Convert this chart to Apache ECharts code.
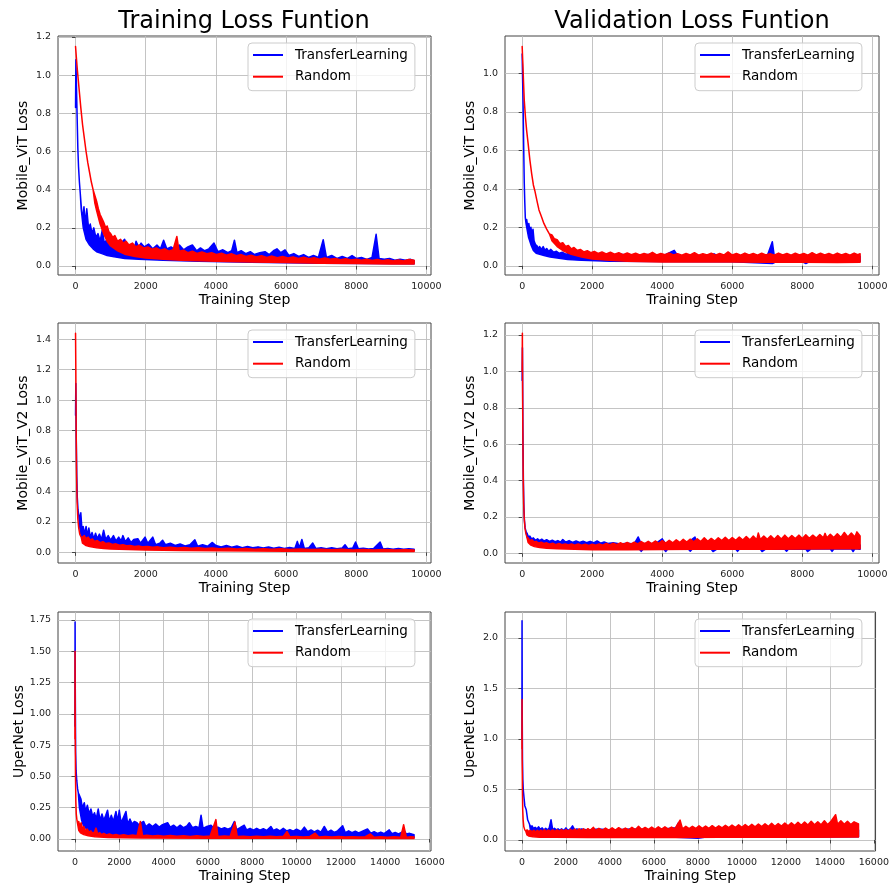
<!DOCTYPE html>
<html>
<head>
<meta charset="utf-8">
<script src="https://cdn.jsdelivr.net/npm/echarts@6/dist/echarts.min.js"></script>
<style>
html, body { margin: 0; padding: 0; background: #fff; }
#chart { width: 892px; height: 888px; }
</style>
</head>
<body>
<div id="chart"></div>
<script>

// ---- tick labels ----
var stepTicks10k = [0, 2000, 4000, 6000, 8000, 10000];
var stepTicks16k = [0, 2000, 4000, 6000, 8000, 10000, 12000, 14000, 16000];
var lossTicks12 = [0, 0.2, 0.4, 0.6, 0.8, 1.0, 1.2];
var lossTicks10 = [0, 0.2, 0.4, 0.6, 0.8, 1.0];
var lossTicks14 = [0, 0.2, 0.4, 0.6, 0.8, 1.0, 1.2, 1.4];
var lossTicks175 = [0, 0.25, 0.5, 0.75, 1.0, 1.25, 1.5, 1.75];
var lossTicks20 = [0, 0.5, 1.0, 1.5, 2.0];

var seriesNames = ['TransferLearning', 'Random'];

// ---- Mobile_ViT, training ([step, loss]; decay = single line, high/low = noise band) ----
var vitTrainTlDecay = [[0,0.83],[10,1.08],[25,0.95],[45,0.78],[65,0.62],[85,0.52],[110,0.44],[135,0.38]];
var vitTrainTlHigh = [[160,0.32],[200,0.24],[240,0.31],[280,0.22],[320,0.3],[370,0.2],[420,0.22],[470,0.17],[520,0.2],[580,0.15],[640,0.17],[700,0.13],[764,0.19],[820,0.12],[900,0.14],[1000,0.11],[1100,0.13],[1200,0.1],[1300,0.12],[1398,0.14],[1480,0.1],[1560,0.11],[1680,0.095],[1725,0.13],[1800,0.1],[1868,0.12],[1960,0.1],[2080,0.115],[2200,0.09],[2320,0.11],[2420,0.09],[2510,0.135],[2600,0.09],[2720,0.1],[2840,0.085],[2960,0.11],[3080,0.085],[3200,0.1],[3330,0.11],[3450,0.08],[3560,0.095],[3680,0.08],[3800,0.09],[3945,0.12],[4060,0.075],[4200,0.085],[4340,0.07],[4450,0.08],[4528,0.135],[4600,0.07],[4720,0.08],[4850,0.065],[4980,0.075],[5100,0.06],[5250,0.07],[5400,0.075],[5520,0.06],[5640,0.08],[5740,0.09],[5850,0.07],[5970,0.085],[6080,0.055],[6220,0.065],[6360,0.05],[6500,0.06],[6640,0.045],[6780,0.055],[6920,0.045],[7058,0.138],[7150,0.045],[7300,0.055],[7450,0.04],[7600,0.05],[7750,0.04],[7880,0.055],[8000,0.04],[8150,0.045],[8300,0.035],[8450,0.045],[8566,0.166],[8650,0.04],[8800,0.035],[8950,0.04],[9100,0.03],[9250,0.035],[9400,0.03],[9550,0.035],[9650,0.028]];
var vitTrainTlLow = [[160,0.3],[220,0.2],[300,0.14],[400,0.11],[500,0.09],[600,0.075],[750,0.065],[900,0.055],[1100,0.048],[1400,0.04],[1800,0.035],[2500,0.03],[3500,0.025],[5000,0.02],[7000,0.015],[9650,0.012]];
var vitTrainRdDecay = [[0,1.15],[20,1.1],[50,1.03],[100,0.93],[150,0.83],[200,0.74],[250,0.67],[300,0.6],[350,0.54],[400,0.49],[450,0.44],[500,0.4]];
var vitTrainRdHigh = [[550,0.37],[600,0.34],[650,0.3],[700,0.27],[750,0.25],[800,0.23],[860,0.2],[900,0.21],[950,0.18],[1000,0.17],[1060,0.15],[1120,0.16],[1200,0.13],[1280,0.14],[1360,0.12],[1440,0.13],[1520,0.11],[1620,0.12],[1720,0.1],[1820,0.11],[1940,0.095],[2060,0.1],[2180,0.088],[2300,0.095],[2420,0.083],[2540,0.09],[2660,0.078],[2780,0.086],[2887,0.155],[2950,0.078],[3080,0.083],[3200,0.07],[3330,0.078],[3460,0.066],[3600,0.074],[3740,0.064],[3880,0.07],[4020,0.06],[4160,0.067],[4300,0.057],[4440,0.064],[4580,0.054],[4720,0.06],[4860,0.05],[5000,0.057],[5150,0.048],[5300,0.054],[5450,0.045],[5600,0.052],[5750,0.043],[5900,0.05],[6050,0.042],[6200,0.048],[6350,0.04],[6500,0.046],[6650,0.038],[6800,0.044],[6950,0.036],[7100,0.042],[7250,0.035],[7400,0.04],[7550,0.033],[7700,0.038],[7850,0.032],[8000,0.036],[8150,0.03],[8300,0.035],[8450,0.029],[8600,0.034],[8750,0.028],[8900,0.033],[9050,0.027],[9200,0.032],[9350,0.026],[9500,0.034],[9650,0.03]];
var vitTrainRdLow = [[550,0.33],[600,0.29],[700,0.22],[800,0.17],[900,0.13],[1000,0.105],[1200,0.08],[1400,0.062],[1700,0.05],[2000,0.042],[2500,0.035],[3000,0.03],[4000,0.025],[5000,0.021],[6000,0.018],[7000,0.015],[8000,0.013],[9000,0.011],[9650,0.01]];

// ---- Mobile_ViT, validation ----
var vitValTlDecay = [[0,1.1],[15,0.95],[30,0.8],[45,0.6],[60,0.43],[75,0.33],[90,0.25],[110,0.22]];
var vitValTlHigh = [[130,0.24],[160,0.2],[190,0.22],[220,0.18],[250,0.2],[280,0.16],[310,0.19],[340,0.13],[380,0.11],[420,0.105],[460,0.09],[500,0.1],[550,0.085],[600,0.1],[650,0.08],[700,0.09],[760,0.075],[820,0.085],[900,0.07],[980,0.075],[1060,0.065],[1150,0.07],[1250,0.06],[1350,0.065],[1500,0.058],[1700,0.062],[1900,0.055],[2100,0.06],[2400,0.055],[2800,0.06],[3200,0.052],[3600,0.058],[4000,0.05],[4343,0.08],[4450,0.05],[4900,0.055],[5300,0.05],[5480,0.062],[5600,0.05],[6000,0.055],[6500,0.05],[7000,0.052],[7143,0.125],[7200,0.05],[7700,0.052],[8200,0.048],[8700,0.052],[9200,0.048],[9650,0.05]];
var vitValTlLow = [[130,0.2],[180,0.15],[250,0.11],[320,0.08],[400,0.065],[500,0.06],[600,0.055],[800,0.045],[1000,0.04],[1300,0.033],[1700,0.028],[2500,0.024],[4000,0.022],[6000,0.021],[7143,0.012],[7250,0.021],[8000,0.02],[8100,0.012],[8200,0.02],[9000,0.021],[9650,0.022]];
var vitValRdDecay = [[0,1.14],[20,1.05],[40,0.95],[60,0.86],[95,0.77],[130,0.7],[170,0.636],[220,0.55],[270,0.48],[320,0.42],[362,0.39],[420,0.34],[480,0.29],[552,0.255],[620,0.22],[700,0.19],[780,0.165]];
var vitValRdHigh = [[850,0.16],[920,0.14],[1000,0.135],[1080,0.115],[1160,0.12],[1240,0.1],[1320,0.105],[1400,0.088],[1480,0.095],[1570,0.08],[1660,0.085],[1760,0.072],[1860,0.078],[1960,0.068],[2060,0.075],[2170,0.064],[2280,0.072],[2400,0.062],[2520,0.07],[2640,0.06],[2760,0.068],[2880,0.058],[3000,0.066],[3120,0.058],[3240,0.065],[3360,0.056],[3480,0.064],[3600,0.058],[3720,0.07],[3840,0.056],[3960,0.064],[4080,0.057],[4200,0.066],[4320,0.056],[4440,0.063],[4560,0.055],[4680,0.064],[4800,0.056],[4920,0.068],[5040,0.055],[5160,0.063],[5280,0.056],[5400,0.065],[5520,0.055],[5640,0.064],[5760,0.056],[5880,0.072],[6000,0.056],[6120,0.064],[6240,0.055],[6360,0.066],[6480,0.056],[6600,0.064],[6720,0.055],[6840,0.065],[6960,0.056],[7080,0.063],[7200,0.055],[7320,0.066],[7440,0.056],[7560,0.064],[7680,0.055],[7800,0.065],[7920,0.056],[8040,0.064],[8160,0.055],[8280,0.068],[8400,0.056],[8520,0.065],[8640,0.056],[8760,0.064],[8880,0.055],[9000,0.066],[9120,0.056],[9240,0.064],[9360,0.055],[9480,0.066],[9580,0.058],[9650,0.062]];
var vitValRdLow = [[850,0.13],[1000,0.1],[1200,0.075],[1400,0.06],[1700,0.045],[2000,0.035],[2500,0.028],[3000,0.024],[4000,0.02],[5000,0.02],[6000,0.019],[7000,0.018],[8000,0.018],[9000,0.017],[9650,0.018]];

// ---- Mobile_ViT_V2, training ----
var v2TrainTlDecay = [[0,0.9],[8,1.11],[20,0.75],[35,0.5],[50,0.36],[70,0.28],[90,0.25]];
var v2TrainTlHigh = [[110,0.21],[150,0.26],[180,0.16],[217,0.17],[260,0.12],[300,0.17],[340,0.11],[380,0.16],[420,0.1],[470,0.13],[520,0.09],[570,0.125],[620,0.09],[680,0.12],[740,0.085],[800,0.145],[860,0.085],[930,0.11],[1000,0.08],[1080,0.11],[1150,0.075],[1230,0.1],[1300,0.075],[1350,0.11],[1420,0.07],[1500,0.095],[1580,0.065],[1660,0.085],[1775,0.09],[1850,0.06],[1980,0.1],[2060,0.06],[2200,0.1],[2280,0.05],[2400,0.06],[2480,0.08],[2560,0.05],[2700,0.06],[2840,0.045],[2980,0.055],[3120,0.042],[3260,0.05],[3400,0.083],[3480,0.04],[3620,0.05],[3760,0.04],[3900,0.065],[4000,0.045],[4150,0.035],[4300,0.045],[4450,0.033],[4600,0.042],[4750,0.03],[4900,0.038],[5050,0.03],[5200,0.036],[5350,0.028],[5500,0.035],[5650,0.027],[5800,0.033],[5950,0.026],[6100,0.032],[6250,0.026],[6320,0.072],[6380,0.03],[6450,0.085],[6520,0.026],[6650,0.03],[6760,0.061],[6850,0.025],[7000,0.03],[7150,0.024],[7300,0.03],[7450,0.023],[7600,0.028],[7680,0.05],[7760,0.024],[7900,0.028],[7980,0.068],[8060,0.023],[8200,0.027],[8350,0.022],[8500,0.026],[8680,0.068],[8760,0.022],[8900,0.026],[9050,0.021],[9200,0.025],[9350,0.02],[9500,0.024],[9650,0.02]];
var v2TrainTlLow = [[110,0.18],[150,0.12],[200,0.09],[300,0.07],[400,0.06],[600,0.05],[800,0.045],[1000,0.04],[1500,0.035],[2000,0.03],[3000,0.025],[4000,0.02],[6000,0.016],[8000,0.013],[9650,0.012]];
var v2TrainRdDecay = [[0,1.44],[8,1.2],[18,0.8],[30,0.5],[45,0.33],[65,0.22],[90,0.16],[120,0.12],[160,0.1]];
var v2TrainRdHigh = [[200,0.1],[250,0.11],[300,0.09],[360,0.1],[420,0.08],[480,0.088],[540,0.072],[620,0.078],[700,0.064],[780,0.07],[860,0.058],[950,0.062],[1050,0.052],[1150,0.056],[1250,0.047],[1350,0.05],[1450,0.043],[1560,0.045],[1680,0.039],[1800,0.042],[1920,0.036],[2050,0.039],[2200,0.033],[2350,0.036],[2500,0.031],[2700,0.034],[2900,0.029],[3100,0.032],[3300,0.027],[3500,0.03],[3700,0.025],[3900,0.028],[4100,0.023],[4350,0.027],[4600,0.022],[4850,0.026],[5100,0.021],[5350,0.024],[5600,0.02],[5850,0.023],[6100,0.019],[6400,0.022],[6700,0.018],[7000,0.021],[7300,0.017],[7600,0.02],[7900,0.016],[8200,0.019],[8500,0.015],[8800,0.018],[9100,0.015],[9400,0.017],[9650,0.016]];
var v2TrainRdLow = [[200,0.06],[300,0.045],[400,0.038],[600,0.03],[800,0.025],[1000,0.022],[1500,0.018],[2000,0.015],[3000,0.012],[4000,0.01],[6000,0.008],[8000,0.006],[9650,0.005]];

// ---- Mobile_ViT_V2, validation ----
var v2ValTlDecay = [[0,0.95],[8,1.13],[20,0.7],[35,0.4],[50,0.25],[65,0.18],[85,0.14],[110,0.12]];
var v2ValTlHigh = [[140,0.11],[180,0.09],[220,0.095],[270,0.08],[320,0.085],[380,0.072],[440,0.08],[500,0.07],[560,0.078],[630,0.068],[700,0.075],[780,0.066],[860,0.072],[940,0.064],[1020,0.07],[1100,0.062],[1160,0.076],[1240,0.062],[1340,0.07],[1440,0.06],[1540,0.068],[1640,0.06],[1740,0.067],[1840,0.058],[1940,0.066],[2040,0.058],[2140,0.068],[2240,0.056],[2340,0.062],[2450,0.054],[2600,0.058],[2800,0.052],[3000,0.056],[3200,0.052],[3314,0.09],[3400,0.052],[3600,0.056],[3800,0.052],[4000,0.08],[4100,0.052],[4300,0.056],[4500,0.05],[4700,0.055],[4934,0.09],[5000,0.05],[5500,0.05],[6000,0.048],[6500,0.05],[7000,0.046],[7500,0.048],[8000,0.046],[8500,0.048],[9000,0.045],[9650,0.046]];
var v2ValTlLow = [[140,0.09],[200,0.065],[300,0.05],[400,0.045],[600,0.04],[800,0.038],[1000,0.036],[1500,0.034],[2000,0.032],[2500,0.028],[3000,0.023],[3350,0.022],[3400,0.011],[3450,0.022],[4050,0.022],[4100,0.01],[4150,0.022],[4750,0.022],[4800,0.012],[4850,0.022],[5400,0.022],[5450,0.01],[5550,0.022],[6100,0.022],[6150,0.011],[6200,0.023],[6800,0.023],[6850,0.01],[6950,0.023],[7500,0.023],[7550,0.012],[7600,0.023],[8100,0.024],[8150,0.01],[8250,0.024],[8800,0.024],[8850,0.011],[8900,0.024],[9400,0.025],[9450,0.01],[9500,0.025],[9650,0.022]];
var v2ValRdDecay = [[0,1.0],[6,1.21],[15,0.8],[28,0.45],[42,0.28],[60,0.19],[80,0.14],[105,0.11],[135,0.09]];
var v2ValRdHigh = [[170,0.085],[220,0.07],[280,0.075],[340,0.062],[400,0.066],[470,0.056],[540,0.062],[620,0.054],[700,0.058],[780,0.05],[870,0.056],[960,0.048],[1050,0.054],[1140,0.047],[1230,0.052],[1320,0.046],[1410,0.052],[1500,0.045],[1600,0.051],[1700,0.045],[1800,0.05],[1900,0.044],[2000,0.05],[2100,0.045],[2200,0.052],[2300,0.045],[2400,0.055],[2500,0.047],[2600,0.056],[2700,0.048],[2800,0.058],[2900,0.05],[3000,0.06],[3100,0.05],[3200,0.062],[3300,0.052],[3400,0.065],[3500,0.053],[3600,0.066],[3700,0.054],[3800,0.068],[3900,0.055],[4000,0.07],[4100,0.056],[4200,0.072],[4300,0.058],[4400,0.074],[4500,0.06],[4600,0.077],[4700,0.062],[4800,0.078],[4900,0.063],[5000,0.08],[5100,0.065],[5200,0.085],[5300,0.066],[5400,0.082],[5500,0.068],[5600,0.086],[5700,0.07],[5800,0.088],[5900,0.07],[6000,0.087],[6100,0.072],[6200,0.09],[6300,0.073],[6400,0.092],[6500,0.074],[6600,0.095],[6700,0.075],[6743,0.112],[6800,0.076],[6900,0.095],[7000,0.077],[7100,0.097],[7200,0.078],[7300,0.098],[7400,0.079],[7500,0.1],[7600,0.08],[7700,0.098],[7800,0.081],[7900,0.1],[8000,0.082],[8100,0.102],[8200,0.083],[8300,0.1],[8400,0.084],[8500,0.104],[8600,0.085],[8650,0.11],[8700,0.086],[8800,0.105],[8900,0.087],[9000,0.108],[9100,0.088],[9200,0.115],[9300,0.09],[9400,0.112],[9500,0.09],[9560,0.118],[9650,0.095]];
var v2ValRdLow = [[170,0.06],[250,0.045],[350,0.037],[500,0.032],[700,0.028],[1000,0.025],[1500,0.022],[2000,0.02],[3000,0.02],[4000,0.021],[5000,0.022],[6000,0.022],[7000,0.023],[8000,0.024],[9000,0.025],[9650,0.026]];

// ---- UperNet, training ----
var uperTrainTlDecay = [[0,0.9],[5,1.735],[15,1.2],[30,0.7],[50,0.55],[80,0.47],[120,0.4],[150,0.37]];
var uperTrainTlHigh = [[200,0.35],[270,0.32],[330,0.25],[421,0.29],[480,0.22],[560,0.27],[640,0.2],[720,0.24],[800,0.18],[880,0.21],[960,0.16],[1050,0.24],[1130,0.15],[1220,0.2],[1300,0.15],[1390,0.19],[1470,0.23],[1550,0.14],[1640,0.19],[1730,0.14],[1850,0.22],[1930,0.14],[2000,0.23],[2080,0.13],[2180,0.17],[2300,0.22],[2380,0.12],[2480,0.16],[2580,0.12],[2680,0.14],[2800,0.13],[2900,0.11],[3000,0.13],[3100,0.14],[3200,0.1],[3350,0.12],[3500,0.1],[3650,0.12],[3800,0.095],[3950,0.115],[4180,0.13],[4300,0.095],[4450,0.11],[4600,0.09],[4750,0.11],[4900,0.09],[5050,0.105],[5160,0.13],[5300,0.09],[5450,0.1],[5600,0.09],[5690,0.19],[5780,0.085],[5950,0.1],[6140,0.11],[6300,0.08],[6450,0.095],[6600,0.08],[6750,0.09],[6900,0.078],[7050,0.09],[7190,0.14],[7300,0.075],[7450,0.09],[7640,0.11],[7750,0.072],[7900,0.085],[8050,0.07],[8200,0.085],[8350,0.07],[8500,0.082],[8650,0.068],[8840,0.1],[8950,0.068],[9100,0.08],[9250,0.065],[9400,0.085],[9550,0.065],[9700,0.075],[9850,0.062],[10000,0.078],[10200,0.06],[10350,0.095],[10500,0.058],[10650,0.072],[10800,0.056],[10950,0.07],[11100,0.055],[11250,0.1],[11400,0.054],[11550,0.07],[11700,0.052],[11850,0.065],[12080,0.105],[12200,0.05],[12350,0.065],[12500,0.05],[12650,0.062],[12800,0.048],[12950,0.06],[13200,0.08],[13350,0.046],[13500,0.058],[13650,0.045],[13800,0.055],[13950,0.043],[14180,0.073],[14300,0.042],[14450,0.052],[14600,0.04],[14860,0.065],[14950,0.04],[15100,0.045],[15300,0.035]];
var uperTrainTlLow = [[200,0.25],[300,0.15],[400,0.1],[600,0.07],[900,0.05],[1300,0.04],[2000,0.03],[3000,0.025],[5000,0.02],[8000,0.018],[11000,0.015],[15300,0.012]];
var uperTrainRdDecay = [[0,0.8],[4,1.5],[12,0.9],[25,0.5],[40,0.3],[60,0.2],[90,0.15],[130,0.11]];
var uperTrainRdHigh = [[170,0.14],[220,0.1],[280,0.13],[340,0.08],[400,0.1],[470,0.065],[550,0.08],[630,0.055],[720,0.065],[800,0.045],[880,0.055],[950,0.087],[1030,0.04],[1120,0.05],[1200,0.035],[1300,0.045],[1420,0.032],[1550,0.04],[1700,0.03],[1850,0.036],[2000,0.028],[2200,0.034],[2400,0.026],[2600,0.032],[2800,0.025],[2950,0.14],[3050,0.025],[3250,0.03],[3500,0.023],[3750,0.028],[4000,0.022],[4300,0.027],[4600,0.021],[4900,0.026],[5200,0.02],[5500,0.025],[5800,0.02],[6100,0.024],[6360,0.155],[6450,0.02],[6750,0.023],[7000,0.019],[7220,0.136],[7320,0.019],[7600,0.022],[7900,0.018],[8200,0.022],[8500,0.018],[8800,0.021],[9100,0.017],[9400,0.021],[9570,0.06],[9700,0.017],[10000,0.02],[10300,0.016],[10600,0.02],[10840,0.046],[11000,0.016],[11300,0.019],[11600,0.015],[11900,0.019],[12200,0.015],[12500,0.018],[12800,0.015],[13100,0.018],[13330,0.04],[13500,0.014],[13800,0.017],[14100,0.014],[14400,0.017],[14700,0.014],[14830,0.114],[14950,0.014],[15150,0.017],[15300,0.015]];
var uperTrainRdLow = [[170,0.07],[250,0.05],[400,0.035],[600,0.025],[900,0.018],[1500,0.012],[3000,0.008],[6000,0.006],[10000,0.005],[15300,0.004]];

// ---- UperNet, validation ----
var uperValTlDecay = [[0,1.0],[4,2.17],[12,1.3],[25,0.8],[40,0.6],[60,0.5],[90,0.43],[130,0.34],[195,0.3],[260,0.2],[345,0.155]];
var uperValTlHigh = [[400,0.13],[460,0.14],[520,0.115],[600,0.125],[680,0.11],[760,0.13],[840,0.105],[920,0.12],[1000,0.1],[1080,0.115],[1160,0.1],[1240,0.12],[1323,0.2],[1400,0.1],[1480,0.115],[1560,0.1],[1640,0.11],[1720,0.095],[1800,0.11],[1900,0.095],[2000,0.12],[2100,0.095],[2200,0.11],[2300,0.14],[2400,0.1],[2500,0.11],[2600,0.1],[2700,0.11],[3000,0.1],[3500,0.11],[4000,0.1],[5000,0.11],[6000,0.1],[7000,0.12],[7115,0.17],[7200,0.11],[8000,0.1],[9000,0.11],[10000,0.1],[11000,0.11],[12000,0.1],[13000,0.11],[14000,0.1],[15300,0.1]];
var uperValTlLow = [[400,0.08],[500,0.06],[700,0.045],[1000,0.035],[1500,0.03],[2000,0.028],[3000,0.027],[5000,0.027],[7000,0.027],[8000,0.018],[8300,0.027],[9000,0.028],[11000,0.028],[13000,0.029],[15300,0.031]];
var uperValRdDecay = [[0,0.9],[5,1.39],[12,0.8],[22,0.5],[35,0.3],[55,0.2],[85,0.13],[130,0.1],[180,0.085]];
var uperValRdHigh = [[230,0.1],[300,0.085],[380,0.095],[460,0.082],[540,0.095],[620,0.08],[700,0.095],[780,0.082],[860,0.097],[940,0.083],[1020,0.1],[1100,0.084],[1200,0.098],[1300,0.085],[1400,0.1],[1500,0.086],[1600,0.1],[1700,0.085],[1800,0.102],[1900,0.087],[2000,0.103],[2100,0.088],[2200,0.105],[2300,0.09],[2400,0.108],[2500,0.09],[2600,0.11],[2700,0.092],[2800,0.11],[2900,0.094],[3000,0.112],[3100,0.095],[3250,0.125],[3350,0.095],[3500,0.115],[3650,0.096],[3800,0.118],[3950,0.097],[4100,0.12],[4250,0.098],[4400,0.122],[4550,0.1],[4700,0.118],[4850,0.1],[5000,0.125],[5150,0.102],[5300,0.135],[5450,0.104],[5600,0.124],[5750,0.105],[5900,0.128],[6050,0.106],[6200,0.13],[6350,0.108],[6500,0.13],[6650,0.108],[6800,0.128],[6950,0.11],[7190,0.197],[7300,0.11],[7450,0.135],[7600,0.112],[7750,0.135],[7900,0.114],[8050,0.14],[8200,0.115],[8350,0.138],[8500,0.116],[8650,0.142],[8800,0.118],[8950,0.14],[9100,0.12],[9250,0.145],[9400,0.122],[9550,0.148],[9700,0.124],[9850,0.15],[10000,0.126],[10150,0.152],[10300,0.128],[10450,0.155],[10600,0.13],[10750,0.158],[10900,0.132],[11050,0.16],[11200,0.134],[11350,0.165],[11500,0.136],[11650,0.162],[11800,0.138],[11950,0.168],[12100,0.14],[12250,0.17],[12400,0.142],[12550,0.175],[12700,0.145],[12850,0.178],[13000,0.148],[13150,0.185],[13300,0.15],[13450,0.18],[13600,0.15],[13750,0.19],[13900,0.152],[14050,0.185],[14260,0.25],[14350,0.155],[14500,0.19],[14650,0.155],[14800,0.185],[14950,0.152],[15100,0.18],[15300,0.16]];
var uperValRdLow = [[230,0.05],[300,0.04],[500,0.032],[800,0.028],[1500,0.026],[3000,0.025],[5000,0.025],[7000,0.025],[9000,0.026],[11000,0.026],[13000,0.027],[15300,0.03]];

var FONT = 'DejaVu Sans';
var BLUE = '#0000ff', RED = '#ff0000';

// 6 panels: grid box in px, axis ranges, labels
var panels = [
	{ left: 58,  top: 36,  w: 373, h: 239, xMin: -500, xMax: 10130, xTicks: stepTicks10k, yMin: -0.047, yMax: 1.205, yTicks: lossTicks12, dec: 1, yName: 'Mobile_ViT Loss',
	  tl: [vitTrainTlDecay, vitTrainTlHigh, vitTrainTlLow], rd: [vitTrainRdDecay, vitTrainRdHigh, vitTrainRdLow] },
	{ left: 505, top: 36,  w: 374, h: 239, xMin: -490, xMax: 10190, xTicks: stepTicks10k, yMin: -0.048, yMax: 1.194, yTicks: lossTicks10, dec: 1, yName: 'Mobile_ViT Loss',
	  tl: [vitValTlDecay, vitValTlHigh, vitValTlLow], rd: [vitValRdDecay, vitValRdHigh, vitValRdLow] },
	{ left: 58,  top: 323, w: 373, h: 240, xMin: -500, xMax: 10130, xTicks: stepTicks10k, yMin: -0.070, yMax: 1.507, yTicks: lossTicks14, dec: 1, yName: 'Mobile_ViT_V2 Loss',
	  tl: [v2TrainTlDecay, v2TrainTlHigh, v2TrainTlLow], rd: [v2TrainRdDecay, v2TrainRdHigh, v2TrainRdLow] },
	{ left: 505, top: 323, w: 374, h: 240, xMin: -490, xMax: 10190, xTicks: stepTicks10k, yMin: -0.053, yMax: 1.266, yTicks: lossTicks12, dec: 1, yName: 'Mobile_ViT_V2 Loss',
	  tl: [v2ValTlDecay, v2ValTlHigh, v2ValTlLow], rd: [v2ValRdDecay, v2ValRdHigh, v2ValRdLow] },
	{ left: 58,  top: 612, w: 373, h: 239, xMin: -765, xMax: 16065, xTicks: stepTicks16k, yMin: -0.096, yMax: 1.814, yTicks: lossTicks175, dec: 2, yName: 'UperNet Loss',
	  tl: [uperTrainTlDecay, uperTrainTlHigh, uperTrainTlLow], rd: [uperTrainRdDecay, uperTrainRdHigh, uperTrainRdLow] },
	{ left: 505, top: 612, w: 374, h: 239, xMin: -770, xMax: 16075, xTicks: stepTicks16k, yMin: -0.109, yMax: 2.257, yTicks: lossTicks20, dec: 1, yName: 'UperNet Loss',
	  tl: [uperValTlDecay, uperValTlHigh, uperValTlLow], rd: [uperValRdDecay, uperValRdHigh, uperValRdLow] }
];

// noisy curve = band between high and low envelope, drawn as one polygon
function bandSeries(name, color, gi, parts) {
	var upper = parts[0].concat(parts[1]);
	var lower = parts[0].concat(parts[2]).reverse();
	return {
		type: 'custom',
		name: name,
		xAxisIndex: gi,
		yAxisIndex: gi,
		silent: true,
		itemStyle: { color: color },
		data: [[0, 0]],
		renderItem: function(params, api) {
			var pts = [];
			for (var i = 0; i < upper.length; i++) pts.push(api.coord(upper[i]));
			for (var j = 0; j < lower.length; j++) pts.push(api.coord(lower[j]));
			return {
				type: 'polygon',
				shape: { points: pts },
				style: { fill: color, stroke: color, lineWidth: 1.5, lineJoin: 'round' }
			};
		}
	};
}

var grids = [], xAxes = [], yAxes = [], series = [], legends = [];
var tickFontSize = 9.5, tickColor = '#222';

panels.forEach(function(p, i) {
	grids.push({ left: p.left, top: p.top, width: p.w, height: p.h, show: true, borderColor: '#444', borderWidth: 1, containLabel: false });
	xAxes.push({
		type: 'value', gridIndex: i, min: p.xMin, max: p.xMax,
		name: 'Training Step', nameLocation: 'middle', nameGap: 18,
		nameTextStyle: { fontFamily: FONT, fontSize: 14, color: '#000' },
		axisLine: { show: false },
		axisTick: { show: true, inside: false, length: 3.5, lineStyle: { color: '#444' }, customValues: p.xTicks },
		axisLabel: { customValues: p.xTicks, margin: 7, fontFamily: FONT, fontSize: tickFontSize, color: tickColor,
			formatter: function(v) { return String(v); } },
		splitLine: { show: true, lineStyle: { color: '#bdbdbd', width: 0.9 } }
	});
	var dec = p.dec;
	yAxes.push({
		type: 'value', gridIndex: i, min: p.yMin, max: p.yMax,
		name: p.yName, nameLocation: 'middle', nameGap: 28, nameRotate: 90,
		nameTextStyle: { fontFamily: FONT, fontSize: 14, color: '#000' },
		axisLine: { show: false },
		axisTick: { show: true, inside: false, length: 3.5, lineStyle: { color: '#444' }, customValues: p.yTicks },
		axisLabel: { customValues: p.yTicks, margin: 7, fontFamily: FONT, fontSize: tickFontSize, color: tickColor,
			formatter: function(v) { return v.toFixed(dec); } },
		splitLine: { show: true, lineStyle: { color: '#bdbdbd', width: 0.9 } }
	});
	series.push(bandSeries(seriesNames[0], BLUE, i, p.tl));
	series.push(bandSeries(seriesNames[1], RED, i, p.rd));
	legends.push({
		left: p.left + 190, top: p.top + 7,
		orient: 'vertical', selectedMode: false,
		data: [{ name: seriesNames[0], icon: 'rect' }, { name: seriesNames[1], icon: 'rect' }],
		itemWidth: 30, itemHeight: 2, itemGap: 5.7,
		padding: [4, 7, 6, 5],
		backgroundColor: 'rgba(255,255,255,0.8)', borderColor: '#cccccc', borderWidth: 1, borderRadius: 4,
		textStyle: { fontFamily: FONT, fontSize: 13.5, color: '#000', lineHeight: 16, padding: [0, 0, 0, 7] }
	});
});

var myChart = echarts.init(document.getElementById('chart'), null, { renderer: 'canvas' });
myChart.setOption({
	animation: false,
	backgroundColor: '#ffffff',
	title: [
		{ text: 'Training Loss Funtion', left: 244, top: 10, padding: 0, textAlign: 'center',
		  textStyle: { fontFamily: FONT, fontSize: 24, fontWeight: 'normal', color: '#000' } },
		{ text: 'Validation Loss Funtion', left: 692, top: 10, padding: 0, textAlign: 'center',
		  textStyle: { fontFamily: FONT, fontSize: 24, fontWeight: 'normal', color: '#000' } }
	],
	legend: legends,
	grid: grids,
	xAxis: xAxes,
	yAxis: yAxes,
	series: series
});
</script>
</body>
</html>
